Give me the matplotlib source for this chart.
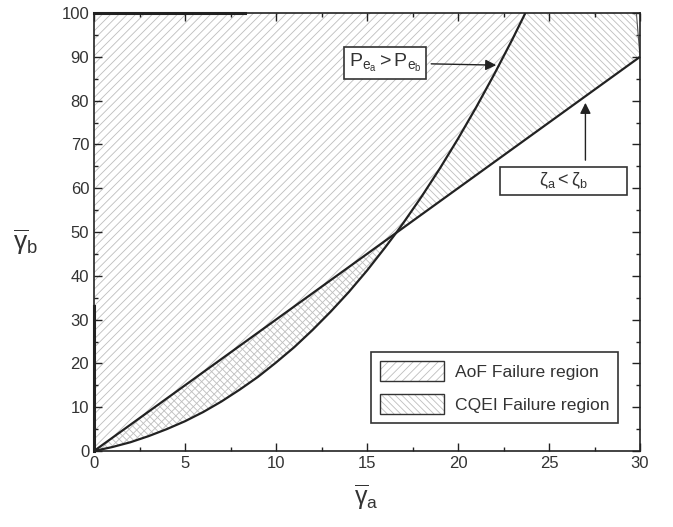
import matplotlib

matplotlib.use("Agg")
import matplotlib.pyplot as plt
import matplotlib.patches as mpatches
from matplotlib.legend_handler import HandlerTuple
from matplotlib.ticker import MultipleLocator

# boundary P_ea = P_eb (curve) and zeta_a = zeta_b (straight line)
curve_x = [0, 1, 2, 3, 4, 5, 6, 7, 8, 9, 10, 11, 12, 13, 14, 15, 16, 16.6,
           17, 18, 19, 20, 21, 22, 23, 23.7]
curve_y = [0, 0.9, 2.0, 3.4, 5.0, 6.8, 8.9, 11.3, 14.0, 16.9, 20.2, 23.7, 27.6,
           31.8, 36.3, 41.2, 46.5, 49.8, 52.1, 58.1, 64.5, 71.3, 78.5, 86.1, 94.1, 100]
line_x = [0, 30]
line_y = [0, 90]
cross_idx = curve_x.index(16.6)  # where the curve meets the line

plt.rcParams["font.family"] = ["Liberation Sans", "DejaVu Sans"]
plt.rcParams["mathtext.fontset"] = "custom"
plt.rcParams["mathtext.rm"] = "Liberation Sans"
plt.rcParams["mathtext.it"] = "Liberation Sans"
plt.rcParams["mathtext.sf"] = "Liberation Sans"
plt.rcParams["hatch.linewidth"] = 0.6

hatch_col = "#bdbdbd"
ink = "#222222"
txt = "#333333"

fig = plt.figure(figsize=(6.73, 5.27), dpi=100)
ax = fig.add_axes([0.1397, 0.1442, 0.8113, 0.8311])

# AoF failure region: everything above the curve
ax.fill(curve_x + [0], curve_y + [100], facecolor="none", edgecolor=hatch_col,
        hatch="////", linewidth=0)

# CQEI failure region: between the curve and the line
ax.fill(curve_x[: cross_idx + 1], curve_y[: cross_idx + 1], facecolor="none",
        edgecolor=hatch_col, hatch="\\\\\\\\\\", linewidth=0)
ax.fill(curve_x[cross_idx:] + [29.8, line_x[1]], curve_y[cross_idx:] + [100, line_y[1]],
        facecolor="none", edgecolor=hatch_col, hatch="\\\\\\\\\\", linewidth=0)

ax.plot(curve_x, curve_y, color=ink, lw=1.6, solid_capstyle="butt")
ax.plot(line_x, line_y, color=ink, lw=1.6, solid_capstyle="butt")
ax.plot([29.8, 30], [100, 90], color="#555555", lw=0.8)
ax.plot([0, 8.3], [100, 100], color=ink, lw=2.2, clip_on=False)
ax.plot([0, 0], [0, 33], color=ink, lw=2.2, clip_on=False)

ax.set_xlim(0, 30)
ax.set_ylim(0, 100)
ax.xaxis.set_major_locator(MultipleLocator(5))
ax.xaxis.set_minor_locator(MultipleLocator(2.5))
ax.yaxis.set_major_locator(MultipleLocator(10))
ax.yaxis.set_minor_locator(MultipleLocator(5))
ax.tick_params(which="both", direction="in", top=True, right=True,
               color=ink, width=1.0, labelsize=12, labelcolor=txt)
ax.tick_params(which="major", length=6)
ax.tick_params(which="minor", length=3)
for s in ax.spines.values():
    s.set_linewidth(1.2)
    s.set_color(ink)

ax.set_xlabel(r"$\overline{\gamma}_{\mathrm{a}}$", fontsize=18, color=txt)
ax.set_ylabel(r"$\overline{\gamma}_{\mathrm{b}}$", fontsize=19, color=txt, rotation=0)
ax.xaxis.set_label_coords(0.498, -0.072)
ax.yaxis.set_label_coords(-0.125, 0.443)

box = dict(boxstyle="square,pad=0.25", facecolor="white", edgecolor=txt, lw=1.2)
ax.annotate(r"$\mathrm{P_{e_a} > P_{e_b}}$", xy=(22.1, 88.1), xytext=(16.0, 88.6),
            fontsize=14, color=txt, ha="center", va="center", bbox=box,
            arrowprops=dict(arrowstyle="-|>", color=ink, lw=1.0, shrinkA=3, shrinkB=0,
                            mutation_scale=16))
ax.annotate("", xy=(27.0, 79.5), xytext=(27.0, 66.4),
            arrowprops=dict(arrowstyle="-|>", color=ink, lw=1.0, shrinkA=0, shrinkB=0,
                            mutation_scale=16))
ax.add_patch(mpatches.Rectangle((22.3, 58.4), 7.0, 6.4, facecolor="white",
                                edgecolor=txt, lw=1.2, zorder=3))
ax.text(25.8, 61.6, r"$\mathrm{\zeta_a < \zeta_b}$", fontsize=13, color=txt,
        ha="center", va="center", zorder=4)

# legend: light hatch with a dark outline on top
def swatch(h):
    return (mpatches.Patch(facecolor="white", edgecolor=hatch_col, hatch=h, lw=0),
            mpatches.Patch(facecolor="none", edgecolor=txt, lw=1.0))

leg = ax.legend([swatch("////"), swatch("\\\\\\\\\\")],
                ["AoF Failure region", "CQEI Failure region"],
                handler_map={tuple: HandlerTuple(ndivide=1)},
                loc="lower right", bbox_to_anchor=(0.96, 0.064), borderaxespad=0,
                fontsize=12.6, handlelength=3.7, handleheight=1.4, labelspacing=0.75,
                borderpad=0.5, handletextpad=0.6, fancybox=False, framealpha=1)
leg.get_frame().set_edgecolor(txt)
leg.get_frame().set_linewidth(1.2)
for t in leg.get_texts():
    t.set_color(txt)

fig.savefig("out.png", dpi=100)
